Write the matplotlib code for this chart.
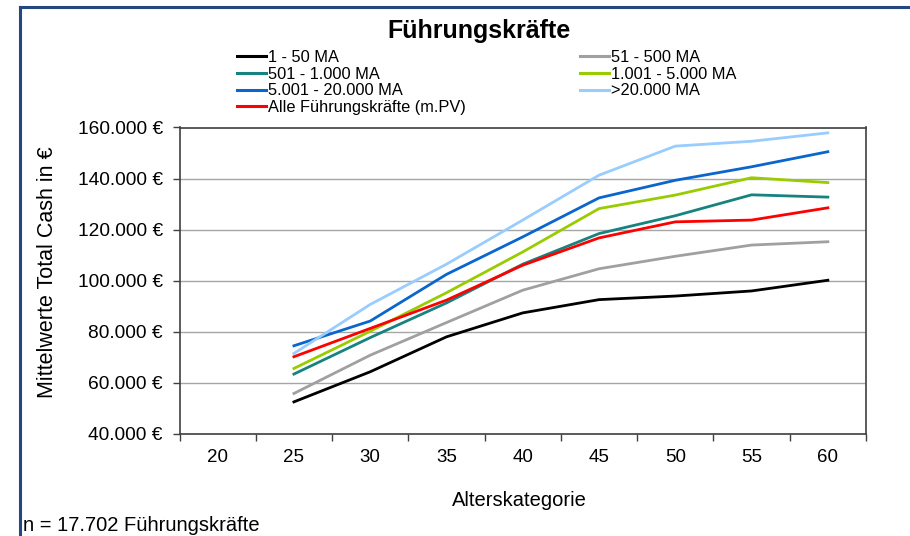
import matplotlib
matplotlib.use("Agg")
import matplotlib.pyplot as plt
from matplotlib.lines import Line2D
from matplotlib.ticker import FixedLocator, FuncFormatter

plt.rcParams['font.family'] = ['Liberation Sans', 'DejaVu Sans']

# Age categories on the x axis (values exist from 25 upwards)
age_categories = [20, 25, 30, 35, 40, 45, 50, 55, 60]
data_ages = [25, 30, 35, 40, 45, 50, 55, 60]

# Average total cash per company size (EUR)
ma_1_50 = [52400, 64200, 77900, 87300, 92500, 93900, 95900, 100100]
ma_51_500 = [55700, 70700, 83500, 96200, 104600, 109500, 113900, 115200]
ma_501_1000 = [63300, 77600, 91200, 106400, 118400, 125400, 133600, 132700]
ma_1001_5000 = [65500, 80100, 95200, 111200, 128200, 133500, 140300, 138400]
ma_5001_20000 = [74400, 84100, 102400, 117100, 132400, 139300, 144600, 150500]
ma_over_20000 = [71400, 90600, 106400, 123700, 141300, 152700, 154600, 157900]
alle_fk = [70100, 81200, 92300, 106000, 116700, 123000, 123700, 128500]

y_ticks = [40000, 60000, 80000, 100000, 120000, 140000, 160000]

series = [
    ("1 - 50 MA", ma_1_50, "#000000"),
    ("51 - 500 MA", ma_51_500, "#A0A0A0"),
    ("501 - 1.000 MA", ma_501_1000, "#16837F"),
    ("1.001 - 5.000 MA", ma_1001_5000, "#99CC00"),
    ("5.001 - 20.000 MA", ma_5001_20000, "#0A66CC"),
    (">20.000 MA", ma_over_20000, "#99CCFF"),
    ("Alle Führungskräfte (m.PV)", alle_fk, "#FF0000"),
]

W, H = 910, 536
fig = plt.figure(figsize=(W / 100, H / 100), dpi=100)
fig.patch.set_facecolor("white")

ax = fig.add_axes([179.5 / W, 1 - 433.5 / H, (866 - 179.5) / W, (433.5 - 127.5) / H])

pos = {a: i for i, a in enumerate(age_categories)}
xs = [pos[a] for a in data_ages]
handles = {}
for name, vals, col in series:
    ln, = ax.plot(xs, vals, color=col, lw=2.0, solid_joinstyle="miter", zorder=3)
    handles[name] = ln

ax.set_xlim(-0.5, len(age_categories) - 0.5)
ax.set_ylim(40000, 160000)
ax.set_yticks(y_ticks)
ax.yaxis.set_major_formatter(FuncFormatter(lambda v, p: f"{int(v):,}".replace(",", ".") + " €"))
ax.set_xticks(range(len(age_categories)))
ax.set_xticklabels([str(a) for a in age_categories])
ax.xaxis.set_minor_locator(FixedLocator([i - 0.5 for i in range(len(age_categories) + 1)]))

frame_col = "#404040"
for s in ax.spines.values():
    s.set_color(frame_col)
    s.set_linewidth(1.2)
ax.tick_params(axis="x", which="major", length=0, pad=11, labelsize=13.5, colors="#000000")
ax.tick_params(axis="x", which="minor", length=5, width=1, color=frame_col, direction="out")
ax.tick_params(axis="y", which="major", length=5, width=1, color=frame_col, pad=7,
               labelsize=13.8, labelcolor="#000000")
ax.grid(axis="y", color="#A6A6A6", lw=1.0, zorder=1)
ax.set_axisbelow(True)

fig.text(479 / W, 1 - 31 / H, "Führungskräfte", ha="center", va="center",
         fontsize=18, fontweight="bold")
fig.text(519 / W, 1 - 500 / H, "Alterskategorie", ha="center", va="center", fontsize=14.5)
fig.text(48 / W, 1 - 272 / H, "Mittelwerte Total Cash in €", ha="center", va="center",
         rotation=90, fontsize=15.5)
fig.text(23 / W, 1 - 531 / H, "n = 17.702 Führungskräfte", ha="left", va="baseline",
         fontsize=14.5)

# Legend: column-major order gives the two-column row layout
order = ["1 - 50 MA", "501 - 1.000 MA", "5.001 - 20.000 MA", "Alle Führungskräfte (m.PV)",
         "51 - 500 MA", "1.001 - 5.000 MA", ">20.000 MA"]
leg_handles = [Line2D([0], [0], color=handles[n].get_color(), lw=2.2) for n in order]
leg = fig.legend(leg_handles, order, loc="upper left", bbox_to_anchor=(237 / W, 1 - 50 / H),
                 ncol=2, frameon=False, fontsize=11.8, handlelength=1.75, handletextpad=0.12,
                 labelspacing=0.1, columnspacing=7.0, borderpad=0, borderaxespad=0)

# Slide frame lines at top and left
fig.add_artist(Line2D([20 / W, 1], [1 - 7 / H, 1 - 7 / H], transform=fig.transFigure,
                      color="#24477F", lw=2.2))
fig.add_artist(Line2D([20 / W, 20 / W], [0, 1 - 7 / H], transform=fig.transFigure,
                      color="#24477F", lw=2.2))

fig.savefig("out.png", dpi=100, facecolor="white")
